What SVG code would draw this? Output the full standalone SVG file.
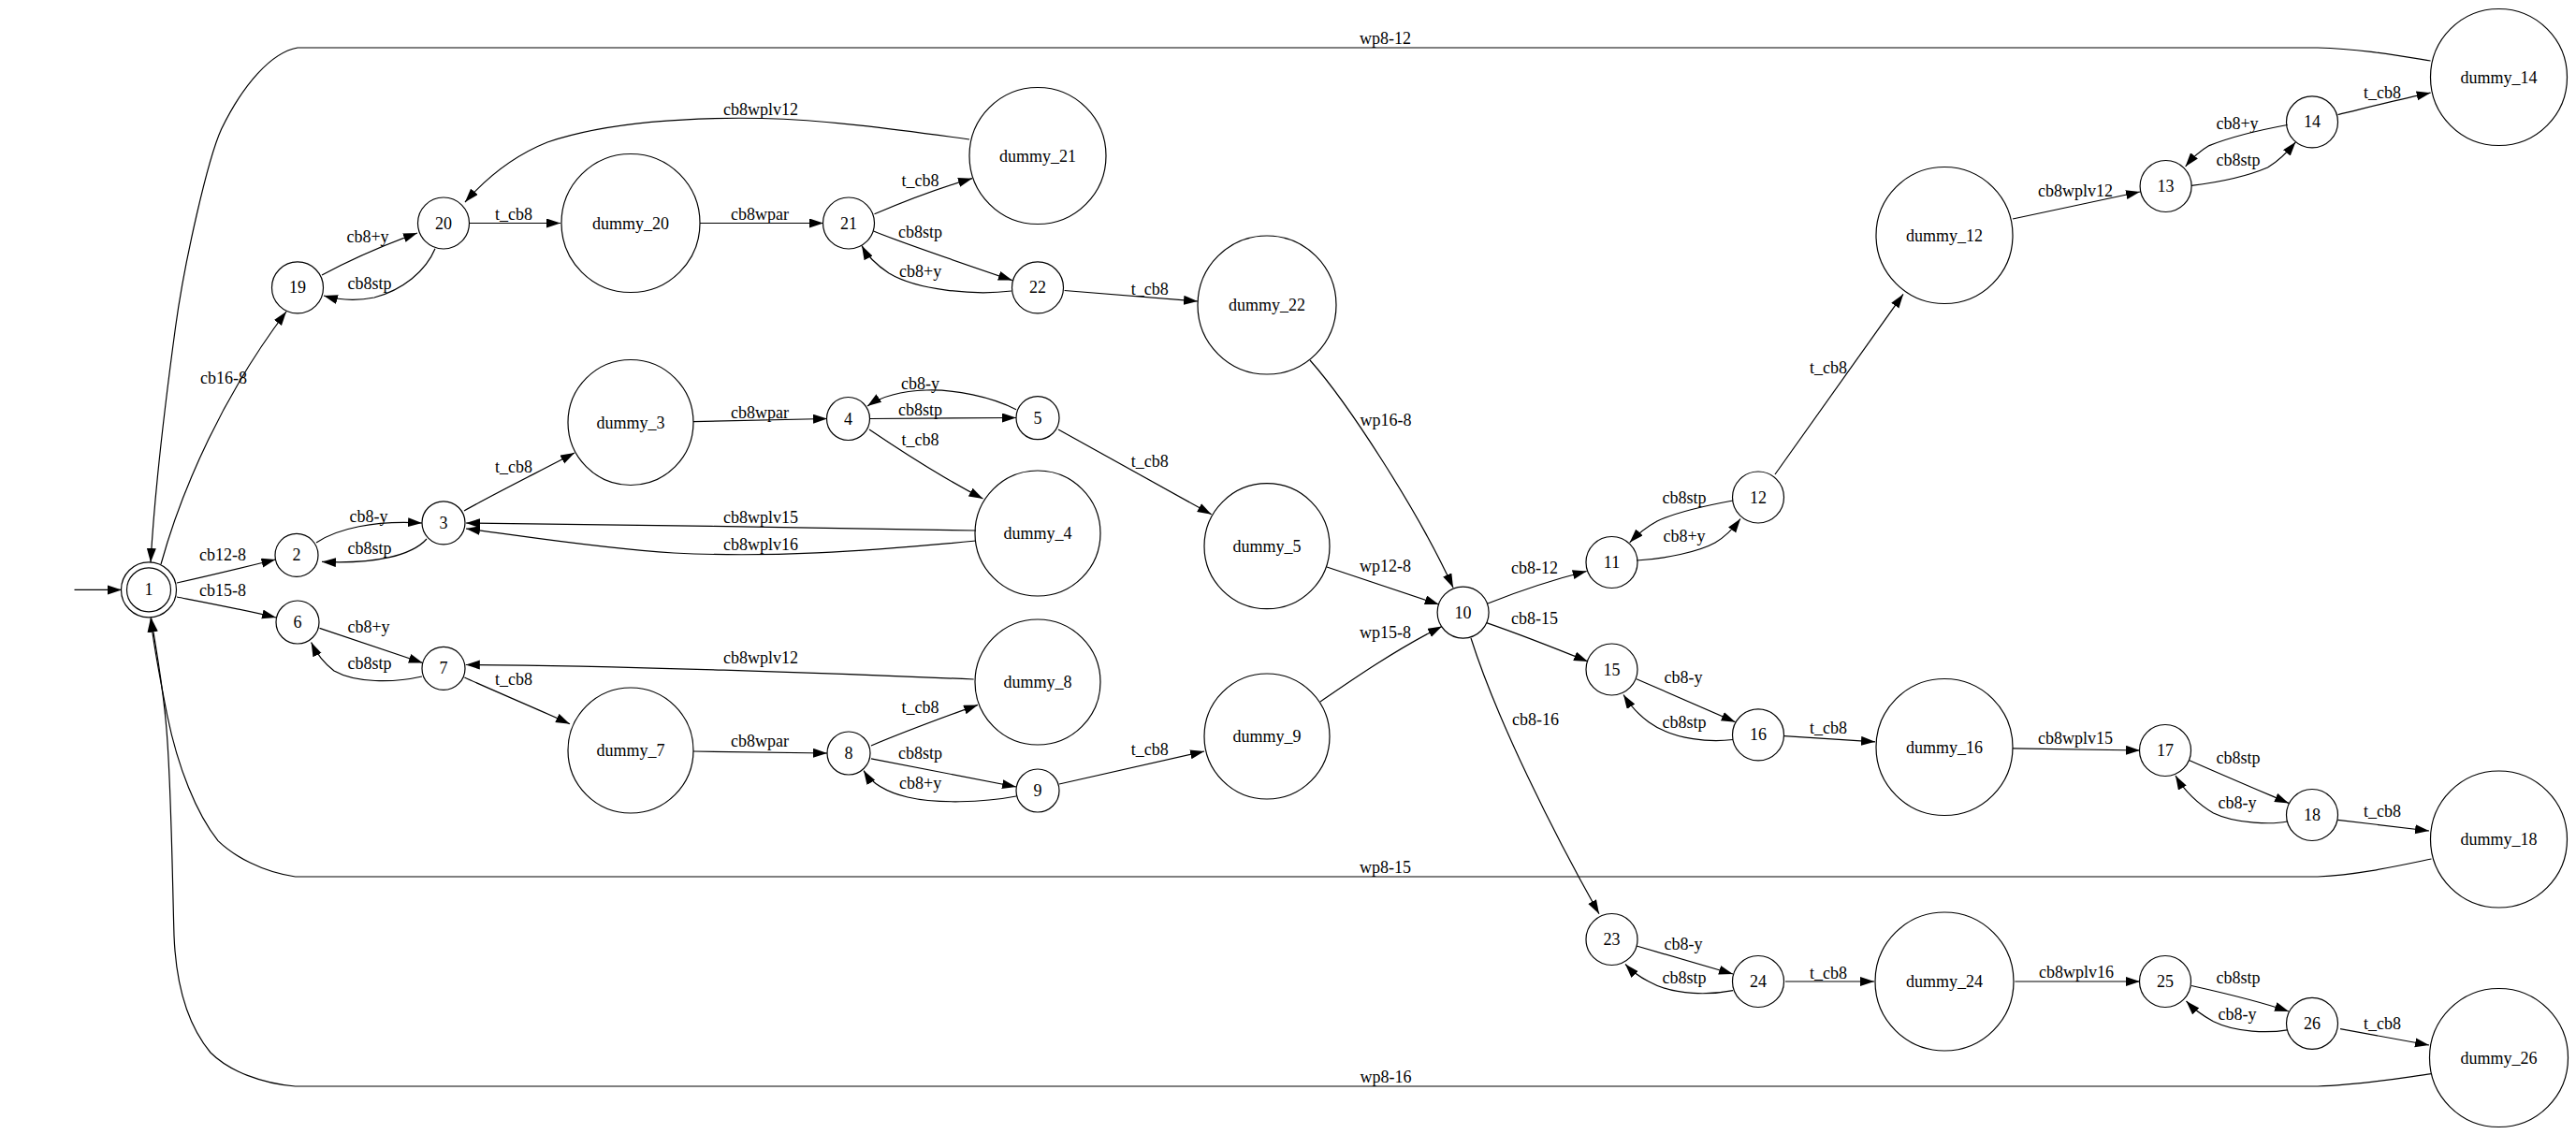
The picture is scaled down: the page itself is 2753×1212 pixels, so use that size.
<svg xmlns="http://www.w3.org/2000/svg" width="2753" height="1212" viewBox="0 0 2753 1212">
<style>
.n ellipse, .n circle { fill: none; stroke: #000; stroke-width: 1.2; }
text { font-family: "Liberation Serif", "Times New Roman", serif; font-size: 18px; fill: #000; text-anchor: middle; }
.e path { fill: none; stroke: #000; stroke-width: 1.2; marker-end: url(#ah); }
.e path.nm { marker-end: none; }
</style>
<defs>
<marker id="ah" markerUnits="userSpaceOnUse" markerWidth="16" markerHeight="11" refX="15" refY="5" orient="auto">
<path d="M0,0 L15,5 L0,10 z" fill="#000"/>
</marker>
</defs>
<rect width="2753" height="1212" fill="#fff"/>
<g class="e" id="edges">
<path d="M79.5,630.4 L130,630.4"/>
<path d="M189,623 C225,615 262,606 294.5,598"/>
<path d="M189,638 C225,645 262,652 295,660"/>
<path d="M172,603 C195,520 240,420 306,333"/>
<path d="M344,294 C370,280 410,262 446,249"/>
<path d="M465,265.8 C455,290 430,310 400,318 C380,322 360,320 346,316"/>
<path d="M501,238.5 L599,238.5"/>
<path d="M338,580 C360,565 400,556 451,559"/>
<path d="M456,576 C440,594 400,603 344,600.4"/>
<path d="M496,546 C520,532 580,502 614,484"/>
<path d="M748,238.5 L880,238.5"/>
<path d="M934.5,228.8 C955,220 1000,202 1039,190.7"/>
<path d="M933.6,247 C960,258 1030,282 1081.8,299.6"/>
<path d="M1081,311 C1040,316 980,310 950,292 C935,282 926,272 921,262.6"/>
<path d="M1137.6,310.5 L1280,322"/>
<path d="M1036,149 C950,137 880,128 814,126.5 C740,125 650,130 585,152 C550,166 520,190 497,216"/>
<path d="M741,450.6 L884,447.5"/>
<path d="M930,447.5 L1086,446.5"/>
<path d="M1086,437.7 C1060,424 1020,416 990,417 C960,418 940,425 927,434"/>
<path d="M929,459 C960,480 1010,512 1050.5,533"/>
<path d="M1131,459 L1294.7,549.8"/>
<path d="M1043,567 C900,564 650,561 498,559"/>
<path d="M1043,578 C920,590 820,596 720,591 C640,586 560,573 498,565"/>
<path d="M341.5,671.4 L451.8,708.5"/>
<path d="M451,723 C420,730 380,730 357,717 C345,708 338,698 332.6,686.6"/>
<path d="M496.4,724 C520,735 575,758 609,773.7"/>
<path d="M1040.7,726 C900,720 650,711 497.8,710.5"/>
<path d="M741,803 L884,805"/>
<path d="M931,797 C950,789 1010,766 1045,753.4"/>
<path d="M931,810.8 L1086,841"/>
<path d="M1086,851 C1050,858 1000,859 970,852 C945,846 930,835 923,823.6"/>
<path d="M1132,838 L1287,803"/>
<path d="M1400,385 C1440,430 1515,545 1553,628"/>
<path d="M1418,606 L1537.7,646"/>
<path d="M1411,750 C1440,730 1490,695 1541,669.5"/>
<path d="M1590,645 C1610,637 1650,622 1695.7,610.5"/>
<path d="M1588.6,665.6 C1610,673 1660,692 1697,707"/>
<path d="M1572,682 C1600,770 1660,890 1709,976.7"/>
<path d="M1749,599 C1780,597 1815,590 1833,580 C1845,573 1853,564 1860,554.5"/>
<path d="M1852,535 C1825,540 1790,548 1771,557 C1760,563 1750,571 1741.7,579.8"/>
<path d="M1897,507 L2034,314.4"/>
<path d="M2151,234 L2287,205"/>
<path d="M2342,198.4 C2370,195 2400,189 2423.5,179 C2435,172 2445,162 2453.4,151.8"/>
<path d="M2444.5,133.5 C2420,138 2385,146 2361,155.6 C2350,162 2342,170 2335.6,178"/>
<path d="M2498.5,122.6 C2530,115 2565,106 2597.6,99.2"/>
<path d="M1749,725.7 L1854.6,771.7"/>
<path d="M1852,790.5 C1830,793 1790,792 1762,771.7 C1750,763 1741,752 1735,742.5"/>
<path d="M1907,786.6 L2004,792.8"/>
<path d="M2151,799.8 L2287,802"/>
<path d="M2340,812.7 C2370,826 2410,843 2446,858.4"/>
<path d="M2444.5,878 C2430,881 2390,881 2365.5,869 C2350,860 2334,845 2325,829"/>
<path d="M2498.5,876.3 L2596,888"/>
<path d="M1749,1011 L1852,1041"/>
<path d="M1852,1058.6 C1830,1063 1790,1065 1762,1049 C1752,1044 1743,1037 1737,1030.5"/>
<path d="M1908,1049 L2003,1049"/>
<path d="M2153.4,1049 L2287,1049"/>
<path d="M2342,1053.5 C2380,1062 2420,1072 2446,1081"/>
<path d="M2444.5,1100.8 C2425,1104 2390,1104 2365.5,1091.8 C2355,1086 2344,1078 2336.5,1070"/>
<path d="M2501,1099.6 L2596,1117"/>
<path d="M2597.6,65 C2560,59 2520,52 2477,51 L318,51 C290,56 260,90 236.6,138 C222,170 197,280 187.5,350 C178,420 165,530 161,601"/>
<path d="M2598.5,918 C2560,926 2520,935 2477,937 L315.6,937 C280,932 250,915 233,898.6 C210,870 190,820 178.6,764 C170,720 164,690 161,660.5"/>
<path d="M2598.5,1147.6 C2560,1153 2520,1160 2477,1161 L315.6,1161 C280,1158 245,1145 225,1125 C200,1095 188,1050 186,1000 C184,930 183,840 178,780 C174,730 166,690 161.6,660.5"/>
</g>
<g id="edge-labels">
<text x="239" y="409.5">cb16-8</text>
<text x="393" y="259">cb8+y</text>
<text x="395" y="309">cb8stp</text>
<text x="549" y="235">t_cb8</text>
<text x="549" y="505">t_cb8</text>
<text x="394" y="558">cb8-y</text>
<text x="395" y="592">cb8stp</text>
<text x="238" y="599">cb12-8</text>
<text x="238" y="637">cb15-8</text>
<text x="394" y="676">cb8+y</text>
<text x="395" y="715">cb8stp</text>
<text x="549" y="732">t_cb8</text>
<text x="813" y="122.7">cb8wplv12</text>
<text x="983.6" y="199">t_cb8</text>
<text x="812" y="235">cb8wpar</text>
<text x="983.6" y="254">cb8stp</text>
<text x="983.6" y="296">cb8+y</text>
<text x="1228.7" y="314.6">t_cb8</text>
<text x="983.6" y="415.7">cb8-y</text>
<text x="983.6" y="443.7">cb8stp</text>
<text x="812" y="446.5">cb8wpar</text>
<text x="983.6" y="475.6">t_cb8</text>
<text x="1228.7" y="499.4">t_cb8</text>
<text x="813" y="558.5">cb8wplv15</text>
<text x="813" y="587.7">cb8wplv16</text>
<text x="813" y="709.4">cb8wplv12</text>
<text x="983.6" y="762">t_cb8</text>
<text x="812" y="798.4">cb8wpar</text>
<text x="983.6" y="810.5">cb8stp</text>
<text x="983.6" y="843">cb8+y</text>
<text x="1228.7" y="807">t_cb8</text>
<text x="1480.5" y="47">wp8-12</text>
<text x="1481" y="454.6">wp16-8</text>
<text x="1800" y="538">cb8stp</text>
<text x="1800" y="579">cb8+y</text>
<text x="1954" y="399">t_cb8</text>
<text x="1480.5" y="611">wp12-8</text>
<text x="1640" y="613">cb8-12</text>
<text x="1640" y="667">cb8-15</text>
<text x="1480.5" y="682">wp15-8</text>
<text x="1641" y="774.6">cb8-16</text>
<text x="1799" y="730">cb8-y</text>
<text x="1800" y="778">cb8stp</text>
<text x="1954" y="783.6">t_cb8</text>
<text x="1480.5" y="933">wp8-15</text>
<text x="1799" y="1014.7">cb8-y</text>
<text x="1800" y="1051">cb8stp</text>
<text x="1954" y="1045.5">t_cb8</text>
<text x="1481" y="1157">wp8-16</text>
<text x="2218" y="210">cb8wplv12</text>
<text x="2391" y="137.5">cb8+y</text>
<text x="2392" y="177">cb8stp</text>
<text x="2546" y="105">t_cb8</text>
<text x="2218" y="794.5">cb8wplv15</text>
<text x="2392" y="816">cb8stp</text>
<text x="2391" y="864.4">cb8-y</text>
<text x="2546" y="873.4">t_cb8</text>
<text x="2219" y="1045">cb8wplv16</text>
<text x="2392" y="1051">cb8stp</text>
<text x="2391" y="1090">cb8-y</text>
<text x="2546" y="1099.8">t_cb8</text>
</g>
<g id="n1" class="n"><circle cx="159" cy="630.4" r="29.5"/><circle cx="159" cy="630.4" r="23.5"/><text x="159" y="636.4">1</text></g>
<g id="n2" class="n"><circle cx="317" cy="593.4" r="23"/><text x="317" y="599.4">2</text></g>
<g id="n3" class="n"><circle cx="474" cy="558.8" r="23"/><text x="474" y="564.8">3</text></g>
<g id="n4" class="n"><circle cx="906.5" cy="447.5" r="23"/><text x="906.5" y="453.5">4</text></g>
<g id="n5" class="n"><circle cx="1109" cy="446.7" r="23"/><text x="1109" y="452.7">5</text></g>
<g id="n6" class="n"><circle cx="318" cy="665" r="23"/><text x="318" y="671">6</text></g>
<g id="n7" class="n"><circle cx="474" cy="714.4" r="23"/><text x="474" y="720.4">7</text></g>
<g id="n8" class="n"><circle cx="907" cy="805" r="23"/><text x="907" y="811">8</text></g>
<g id="n9" class="n"><circle cx="1109" cy="845" r="23"/><text x="1109" y="851">9</text></g>
<g id="n10" class="n"><circle cx="1563.6" cy="654.6" r="27.5"/><text x="1563.6" y="660.6">10</text></g>
<g id="n11" class="n"><circle cx="1722.5" cy="601" r="27.5"/><text x="1722.5" y="607">11</text></g>
<g id="n12" class="n"><circle cx="1879" cy="531.5" r="27.5"/><text x="1879" y="537.5">12</text></g>
<g id="n13" class="n"><circle cx="2314.6" cy="199" r="27.5"/><text x="2314.6" y="205">13</text></g>
<g id="n14" class="n"><circle cx="2471" cy="130.4" r="27.5"/><text x="2471" y="136.4">14</text></g>
<g id="n15" class="n"><circle cx="1722.5" cy="715.5" r="27.5"/><text x="1722.5" y="721.5">15</text></g>
<g id="n16" class="n"><circle cx="1879" cy="785.4" r="27.5"/><text x="1879" y="791.4">16</text></g>
<g id="n17" class="n"><circle cx="2314" cy="802" r="27.5"/><text x="2314" y="808">17</text></g>
<g id="n18" class="n"><circle cx="2471" cy="871" r="27.5"/><text x="2471" y="877">18</text></g>
<g id="n19" class="n"><circle cx="318" cy="307.4" r="27.5"/><text x="318" y="313.4">19</text></g>
<g id="n20" class="n"><circle cx="474" cy="238.5" r="27.5"/><text x="474" y="244.5">20</text></g>
<g id="n21" class="n"><circle cx="907" cy="238.5" r="27.5"/><text x="907" y="244.5">21</text></g>
<g id="n22" class="n"><circle cx="1109" cy="307.4" r="27.5"/><text x="1109" y="313.4">22</text></g>
<g id="n23" class="n"><circle cx="1722.5" cy="1004" r="27.5"/><text x="1722.5" y="1010">23</text></g>
<g id="n24" class="n"><circle cx="1879" cy="1049" r="27.5"/><text x="1879" y="1055">24</text></g>
<g id="n25" class="n"><circle cx="2314" cy="1049" r="27.5"/><text x="2314" y="1055">25</text></g>
<g id="n26" class="n"><circle cx="2471" cy="1093.8" r="27.5"/><text x="2471" y="1099.8">26</text></g>
<g id="dummy_3" class="n"><circle cx="674" cy="451.5" r="67"/><text x="674" y="457.5">dummy_3</text></g>
<g id="dummy_4" class="n"><circle cx="1109" cy="570" r="67"/><text x="1109" y="576">dummy_4</text></g>
<g id="dummy_5" class="n"><circle cx="1354" cy="583.7" r="67"/><text x="1354" y="589.7">dummy_5</text></g>
<g id="dummy_7" class="n"><circle cx="674" cy="802" r="67"/><text x="674" y="808">dummy_7</text></g>
<g id="dummy_8" class="n"><circle cx="1109" cy="729" r="67"/><text x="1109" y="735">dummy_8</text></g>
<g id="dummy_9" class="n"><circle cx="1354" cy="787" r="67"/><text x="1354" y="793">dummy_9</text></g>
<g id="dummy_12" class="n"><circle cx="2078" cy="251.5" r="73"/><text x="2078" y="257.5">dummy_12</text></g>
<g id="dummy_14" class="n"><circle cx="2670.5" cy="82.5" r="73"/><text x="2670.5" y="88.5">dummy_14</text></g>
<g id="dummy_16" class="n"><circle cx="2078" cy="798.5" r="73"/><text x="2078" y="804.5">dummy_16</text></g>
<g id="dummy_18" class="n"><circle cx="2670.5" cy="897" r="73"/><text x="2670.5" y="903">dummy_18</text></g>
<g id="dummy_20" class="n"><circle cx="674" cy="238.5" r="74"/><text x="674" y="244.5">dummy_20</text></g>
<g id="dummy_21" class="n"><circle cx="1109" cy="166.5" r="73"/><text x="1109" y="172.5">dummy_21</text></g>
<g id="dummy_22" class="n"><circle cx="1354" cy="326" r="74"/><text x="1354" y="332">dummy_22</text></g>
<g id="dummy_24" class="n"><circle cx="2078" cy="1049" r="74"/><text x="2078" y="1055">dummy_24</text></g>
<g id="dummy_26" class="n"><circle cx="2670.5" cy="1130.5" r="74"/><text x="2670.5" y="1136.5">dummy_26</text></g>
</svg>
